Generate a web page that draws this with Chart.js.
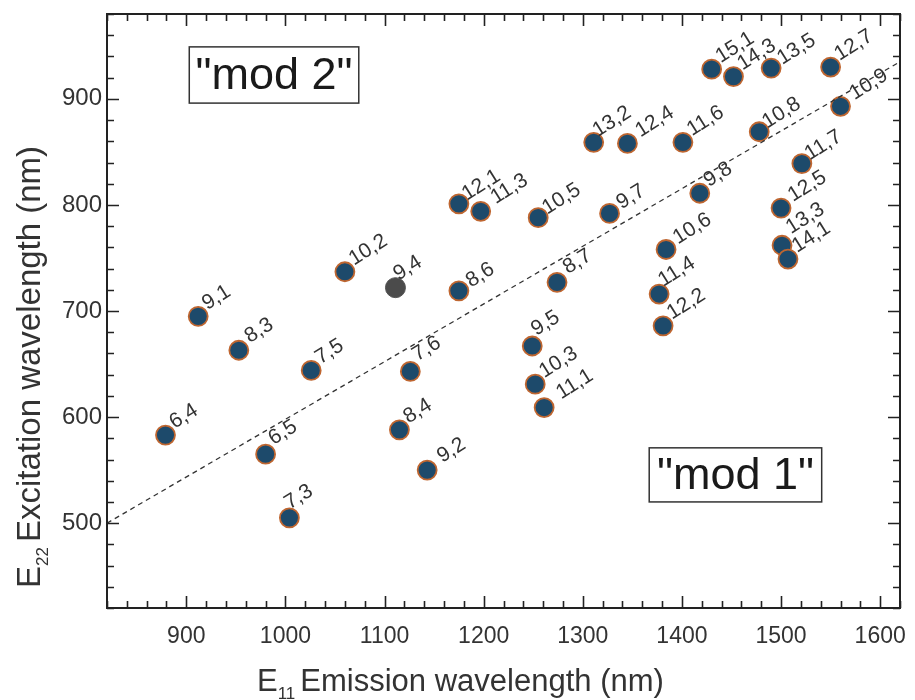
<!DOCTYPE html>
<html>
<head>
<meta charset="utf-8">
<script src="https://cdn.jsdelivr.net/npm/chart.js@4.4.1/dist/chart.umd.min.js"></script>
<style>
    body { margin: 0; background: #fff; }
    canvas { display: block; }
</style>
</head>
<body>
<canvas id="chartCanvas" width="915" height="700"></canvas>
<script>
// chirality (n,m) labels and their E11 / E22 wavelengths in nm
const tubeLabels = ['6,4', '9,1', '8,3', '6,5', '7,3', '7,5', '10,2', '8,4', '7,6', '9,2',
    '12,1', '8,6', '11,3', '9,5', '10,3', '10,5', '11,1', '8,7', '13,2', '9,7',
    '12,4', '11,4', '12,2', '10,6', '11,6', '9,8', '15,1', '14,3', '10,8', '13,5',
    '12,5', '13,3', '14,1', '11,7', '12,7', '10,9']
const emission = [879, 912, 953, 980, 1004, 1026, 1060, 1115, 1126, 1143,
    1175, 1175, 1197, 1249, 1252, 1255, 1261, 1274, 1311, 1327,
    1345, 1377, 1381, 1384, 1401, 1418, 1430, 1452, 1478, 1490,
    1500, 1501, 1507, 1521, 1550, 1560]
const excitation = [583, 695, 663, 565, 505, 644, 737, 588, 643, 550,
    801, 719, 794, 667, 631, 788, 609, 727, 859, 792,
    858, 716, 686, 758, 859, 811, 928, 921, 869, 929,
    797, 762, 749, 839, 930, 893]

// the grey point
const greyLabels = ['9,4']
const greyEmission = [1111]
const greyExcitation = [722]

// dashed divider between "mod 1" and "mod 2"
const dividerX = [820, 1620]
const dividerY = [500, 935]

const xTicks = [900, 1000, 1100, 1200, 1300, 1400, 1500, 1600]
const yTicks = [500, 600, 700, 800, 900]

const textColor = '#333'
const fontFamily = '"Liberation Sans", Arial, Helvetica, sans-serif'

// label nudges (px) where the default one does not fit
const labelNudge = {
    '7,3': [0, -8], '9,5': [4, -10], '9,4': [3, -7], '13,2': [4, -5], '11,4': [4, -7],
    '11,3': [15, -7], '9,2': [15, -7], '11,1': [17, -8], '10,9': [14, -6], '7,6': [7, -10],
    '6,5': [8, -9], '13,3': [9, -11], '12,1': [8, -3], '10,5': [9, -3], '8,6': [12, -3],
    '10,8': [8, -3], '11,7': [8, -3], '13,5': [11, -3], '12,5': [12, -6], '12,4': [13, -6],
    '9,7': [12, -4], '10,6': [12, -5], '8,7': [11, -8], '8,3': [11, -7]
}

const toPoints = (xs, ys) => xs.map((x, i) => ({x: x, y: ys[i]}))

// inward ticks on all four sides, plus the frame
const frameTicks = {
    id: 'frameTicks',
    afterDraw(chart) {
        const {ctx, chartArea: a, scales: {x, y}} = chart
        ctx.save()
        ctx.strokeStyle = '#222'
        ctx.lineWidth = 2
        ctx.strokeRect(a.left, a.top, a.right - a.left, a.bottom - a.top)
        ctx.lineWidth = 1.6
        ctx.beginPath()
        for (let v = 820; v <= 1620; v += 20) {
            const px = Math.round(x.getPixelForValue(v)) + 0.5
            const len = v % 100 === 0 ? 12 : 7
            ctx.moveTo(px, a.bottom); ctx.lineTo(px, a.bottom - len)
            ctx.moveTo(px, a.top); ctx.lineTo(px, a.top + len)
        }
        for (let v = 420; v <= 980; v += 20) {
            const py = Math.round(y.getPixelForValue(v)) + 0.5
            const len = v % 100 === 0 ? 12 : 7
            ctx.moveTo(a.left, py); ctx.lineTo(a.left + len, py)
            ctx.moveTo(a.right, py); ctx.lineTo(a.right - len, py)
        }
        ctx.stroke()
        ctx.restore()
    }
}

// rotated (n,m) labels next to each point
const pointLabels = {
    id: 'pointLabels',
    afterDatasetsDraw(chart) {
        const ctx = chart.ctx
        ctx.save()
        ctx.fillStyle = textColor
        ctx.font = '21px ' + fontFamily
        ctx.textAlign = 'left'
        ctx.textBaseline = 'alphabetic'
        chart.data.datasets.forEach((ds, di) => {
            if (!ds.names) return
            chart.getDatasetMeta(di).data.forEach((el, i) => {
                const name = ds.names[i]
                const nudge = labelNudge[name] || [9, -6]
                ctx.save()
                ctx.translate(el.x + nudge[0], el.y + nudge[1])
                ctx.rotate(-32 * Math.PI / 180)
                ctx.fillText(name, 0, 0)
                ctx.restore()
            })
        })
        ctx.restore()
    }
}

// boxed "mod" notes and the axis titles with subscripts
const notes = {
    id: 'notes',
    afterDraw(chart) {
        const {ctx, scales: {x, y}} = chart
        ctx.save()
        const boxes = [
            {text: '"mod 2"', x0: 903, x1: 1074, y0: 949, y1: 896},
            {text: '"mod 1"', x0: 1367, x1: 1541, y0: 571, y1: 520}
        ]
        boxes.forEach(b => {
            const l = x.getPixelForValue(b.x0), r = x.getPixelForValue(b.x1)
            const t = y.getPixelForValue(b.y0), bt = y.getPixelForValue(b.y1)
            ctx.fillStyle = '#fff'
            ctx.fillRect(l, t, r - l, bt - t)
            ctx.strokeStyle = '#333'
            ctx.lineWidth = 1.5
            ctx.strokeRect(l, t, r - l, bt - t)
            ctx.fillStyle = '#1a1a1a'
            ctx.font = '45px ' + fontFamily
            ctx.textAlign = 'center'
            ctx.textBaseline = 'middle'
            ctx.fillText(b.text, (l + r) / 2, (t + bt) / 2 + 2)
        })

        ctx.fillStyle = textColor
        ctx.textAlign = 'left'
        ctx.textBaseline = 'alphabetic'
        // x title
        let cx = 257
        ctx.font = '31px ' + fontFamily
        ctx.fillText('E', cx, 691)
        cx += ctx.measureText('E').width
        ctx.font = '17px ' + fontFamily
        ctx.fillText('11', cx, 699)
        cx += ctx.measureText('11').width + 5
        ctx.font = '31px ' + fontFamily
        ctx.fillText('Emission wavelength (nm)', cx, 691)
        // y title
        ctx.translate(40, 588)
        ctx.rotate(-Math.PI / 2)
        let cy = 0
        ctx.font = '33px ' + fontFamily
        ctx.fillText('E', cy, 0)
        cy += ctx.measureText('E').width
        ctx.font = '17px ' + fontFamily
        ctx.fillText('22', cy, 8)
        cy += ctx.measureText('22').width + 5
        ctx.font = '33px ' + fontFamily
        ctx.fillText('Excitation wavelength (nm)', cy, 0)
        ctx.restore()
    }
}

const config = {
    type: 'scatter',
    data: {
        datasets: [
            {
                type: 'line',
                data: toPoints(dividerX, dividerY),
                borderColor: '#333',
                borderWidth: 1.3,
                borderDash: [5, 4],
                pointRadius: 0,
                fill: false
            },
            {
                data: toPoints(greyEmission, greyExcitation),
                names: greyLabels,
                backgroundColor: '#4b4b4b',
                borderColor: '#555',
                borderWidth: 1,
                pointRadius: 10
            },
            {
                data: toPoints(emission, excitation),
                names: tubeLabels,
                backgroundColor: '#1d4a6b',
                borderColor: '#bf6630',
                borderWidth: 1.8,
                pointRadius: 9.5
            }
        ]
    },
    options: {
        responsive: false,
        animation: false,
        devicePixelRatio: 1,
        layout: {
            padding: {left: 0, top: 14, right: 15, bottom: 0}
        },
        plugins: {
            legend: {display: false},
            tooltip: {enabled: false}
        },
        scales: {
            x: {
                type: 'linear',
                min: 820,
                max: 1620,
                grid: {display: false, drawTicks: false},
                border: {display: false},
                afterFit: (scale) => {
                    scale.height = 92
                    scale.paddingLeft = 0
                    scale.paddingRight = 0
                },
                afterBuildTicks: (scale) => { scale.ticks = xTicks.map(v => ({value: v})) },
                ticks: {
                    padding: 15,
                    maxRotation: 0,
                    color: textColor,
                    font: {family: fontFamily, size: 23},
                    callback: (v) => String(v)
                }
            },
            y: {
                type: 'linear',
                min: 420,
                max: 980,
                grid: {display: false, drawTicks: false},
                border: {display: false},
                afterFit: (scale) => {
                    scale.width = 107
                    scale.paddingTop = 0
                    scale.paddingBottom = 0
                },
                afterBuildTicks: (scale) => { scale.ticks = yTicks.map(v => ({value: v})) },
                ticks: {
                    padding: 5,
                    color: textColor,
                    font: {family: fontFamily, size: 24},
                    callback: (v) => String(v)
                }
            }
        }
    },
    plugins: [frameTicks, pointLabels, notes]
}

const myChart = new Chart(
    document.getElementById('chartCanvas'),
    config
)
</script>
</body>
</html>
